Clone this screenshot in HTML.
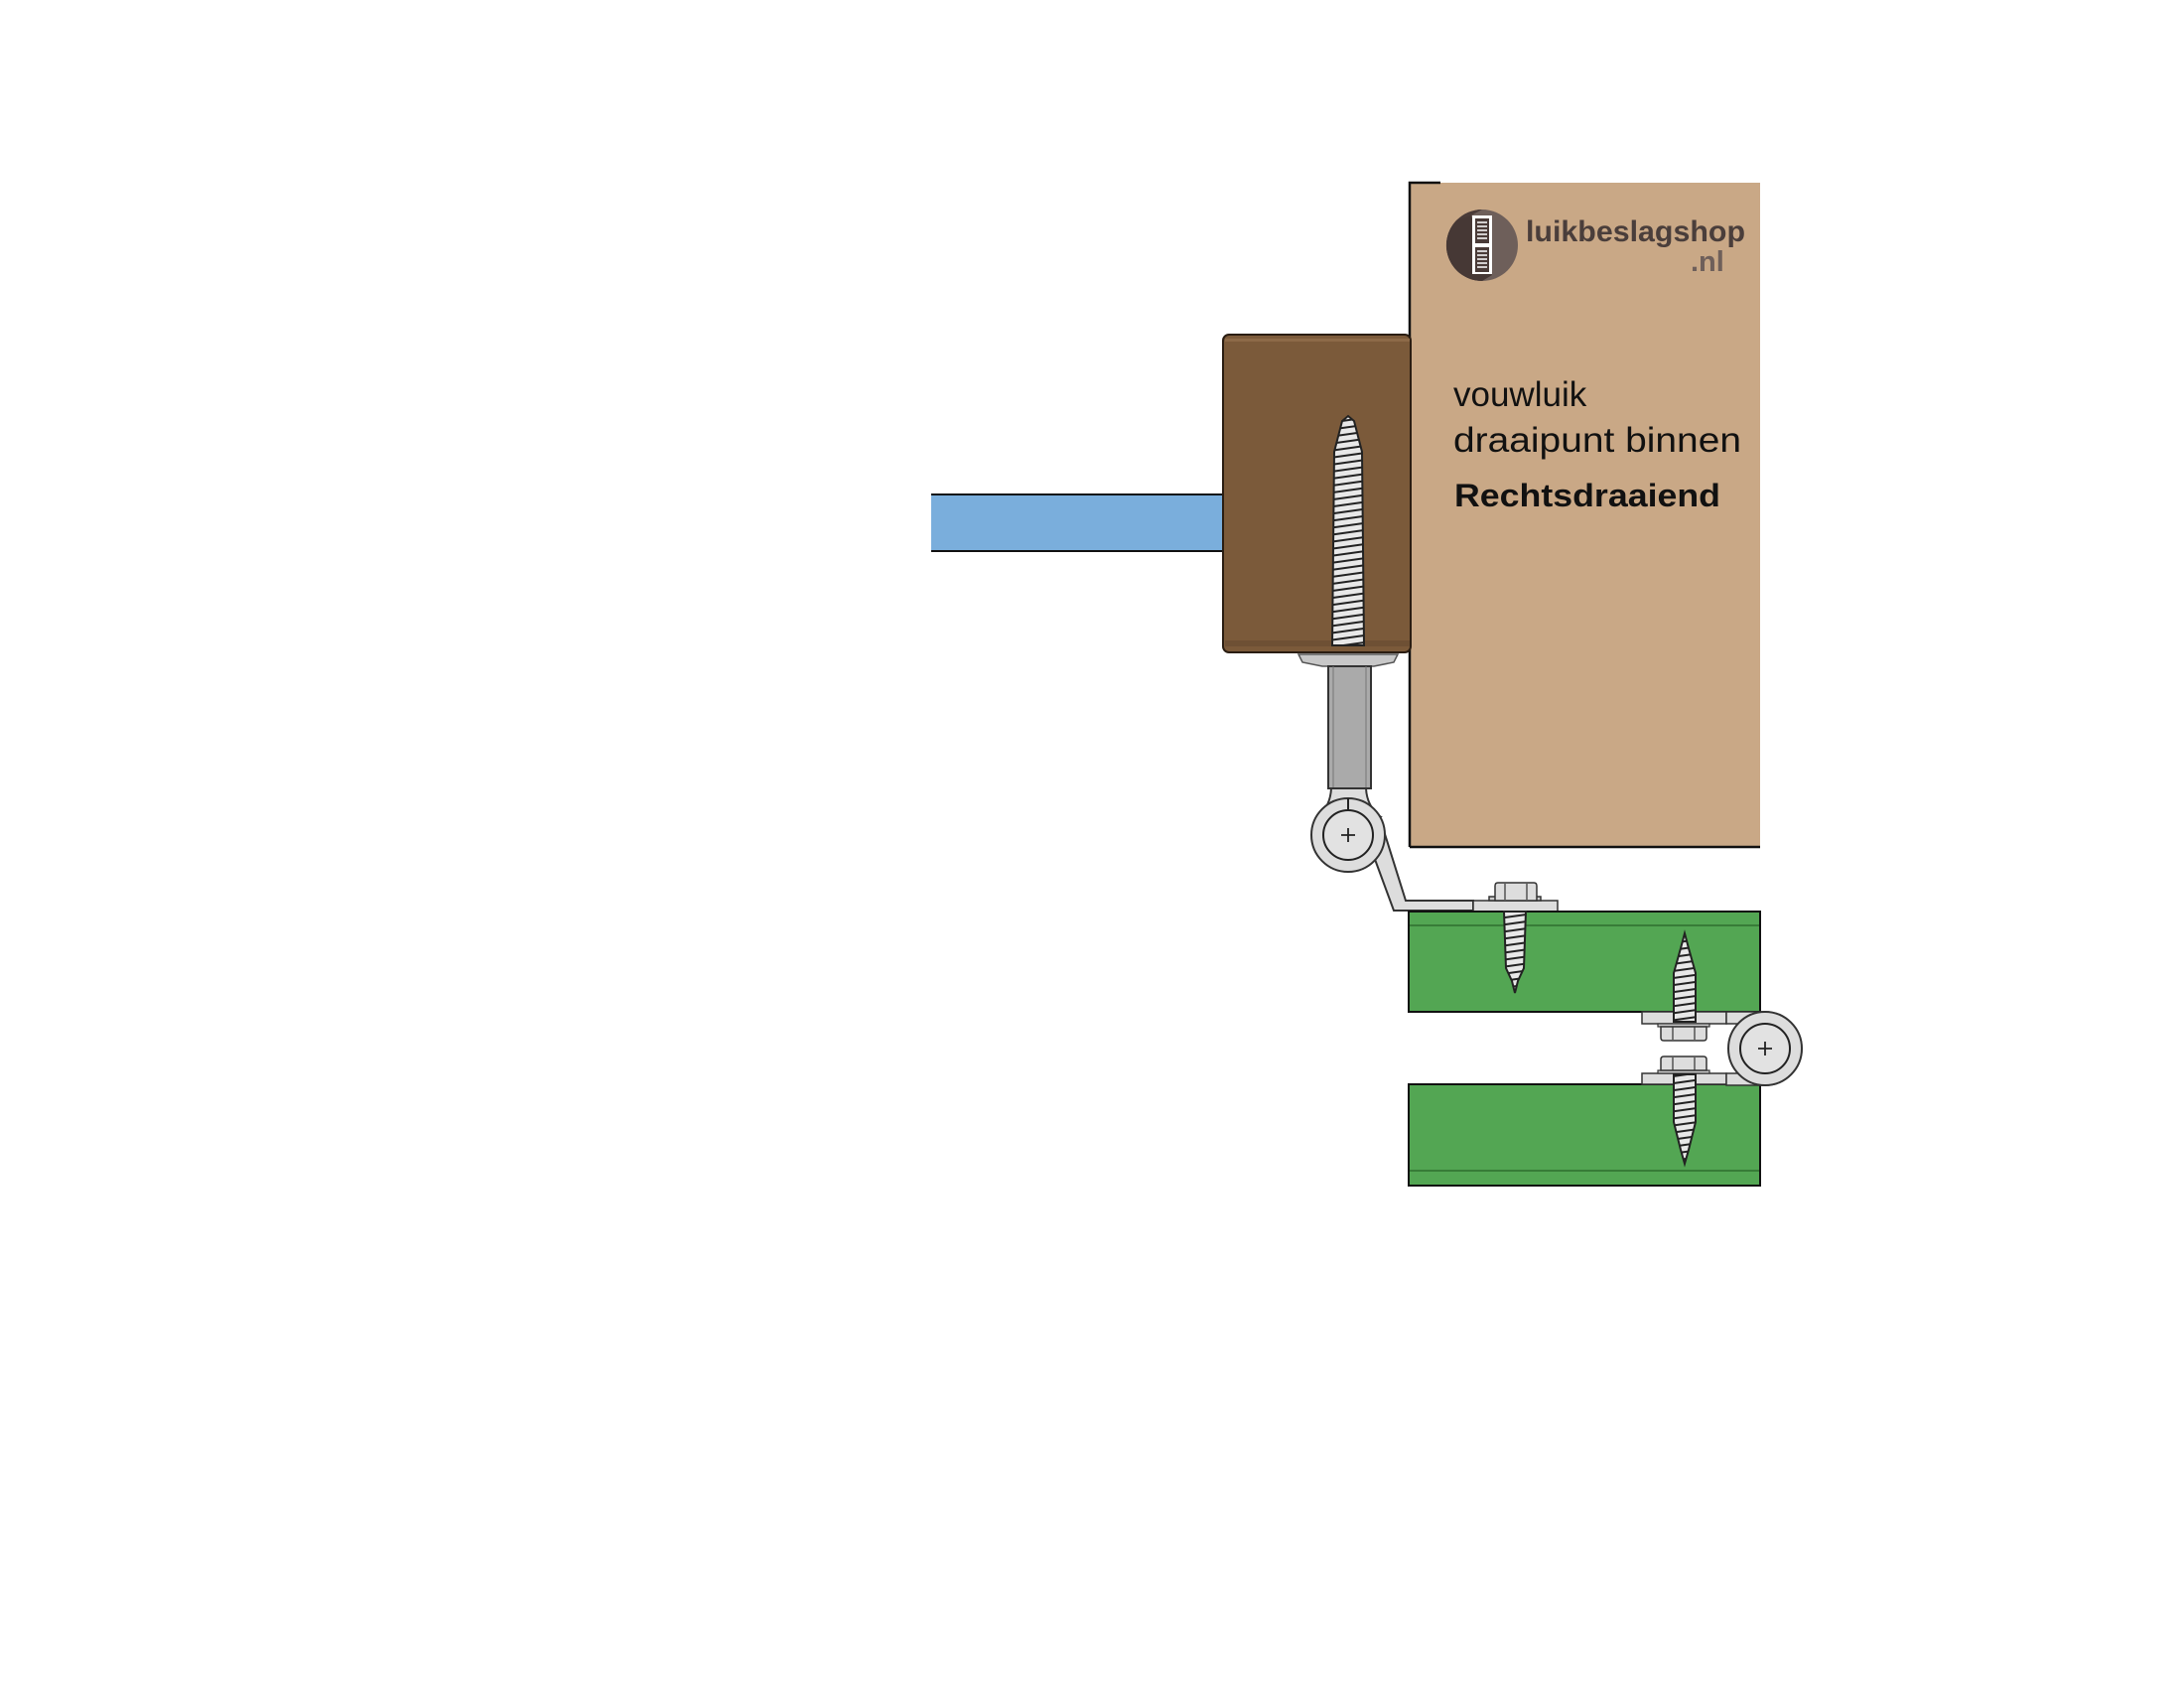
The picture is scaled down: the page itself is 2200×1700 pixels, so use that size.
<!DOCTYPE html>
<html><head><meta charset="utf-8"><style>html,body{margin:0;padding:0;background:#fff}svg{display:block}</style></head>
<body>
<svg width="2200" height="1700" viewBox="0 0 2200 1700" xmlns="http://www.w3.org/2000/svg">
<defs>
<pattern id="thr" width="12" height="7" patternUnits="userSpaceOnUse" patternTransform="rotate(-8)">
<rect width="12" height="7" fill="#e8e8e8"/><rect y="5" width="12" height="2" fill="#222"/>
</pattern>
</defs>
<rect x="1420" y="184" width="353" height="669" fill="#c9a886"/>
<path d="M1420 853 V184 H1451 M1420 853 H1773" fill="none" stroke="#111" stroke-width="2.5"/>
<circle cx="1493" cy="247" r="36" fill="#6e5f5a"/>
<path d="M1493 211 A36 36 0 0 0 1493 283 L1482 277 L1482 217 Z" fill="#4a3b38"/>
<path d="M1467 222 A36 36 0 0 0 1493 283 L1503 277 L1482 217 Z" fill="#463835"/>
<rect x="1483" y="217" width="20" height="59" fill="#fff"/>
<rect x="1486" y="220" width="14" height="25" fill="#4a3b38"/>
<rect x="1486" y="249" width="14" height="25" fill="#4a3b38"/>
<g stroke="#fff" stroke-width="1.5"><path d="M1488 224H1498M1488 228H1498M1488 232H1498M1488 236H1498M1488 240H1498M1488 253H1498M1488 257H1498M1488 261H1498M1488 265H1498M1488 269H1498"/></g>
<text x="1537" y="243" font-family="Liberation Sans, sans-serif" font-weight="bold" font-size="30" fill="#4a3e3b" textLength="221" lengthAdjust="spacingAndGlyphs">luikbeslagshop</text>
<text x="1703" y="273" font-family="Liberation Sans, sans-serif" font-weight="bold" font-size="29" fill="#6e5f5a">.nl</text>
<text x="1464" y="409" font-family="Liberation Sans, sans-serif" font-size="35" fill="#111">vouwluik</text>
<text x="1464" y="455" font-family="Liberation Sans, sans-serif" font-size="35" fill="#111" textLength="290" lengthAdjust="spacingAndGlyphs">draaipunt binnen</text>
<text x="1465" y="510" font-family="Liberation Sans, sans-serif" font-weight="bold" font-size="32" fill="#111" textLength="268" lengthAdjust="spacingAndGlyphs">Rechtsdraaiend</text>
<rect x="938" y="498" width="296" height="57" fill="#7aaedc"/>
<path d="M938 498H1234M938 555H1234" stroke="#111" stroke-width="2"/>
<rect x="1232" y="337" width="189" height="320" rx="6" fill="#7b5a3a" stroke="#2a1d12" stroke-width="2"/>
<rect x="1234" y="341" width="186" height="3" fill="#8d6a48"/>
<rect x="1234" y="645" width="186" height="6" fill="#6e5034"/>
<path d="M1358 419 L1364 424 L1372 455 L1374 650 L1342 650 L1344 455 L1352 424 Z" fill="url(#thr)" stroke="#222" stroke-width="2"/>
<path d="M1308 659 H1408 L1404 667 L1384 671 H1332 L1312 667 Z" fill="#c8c8c8" stroke="#555" stroke-width="1.5"/>
<rect x="1338" y="671" width="43" height="123" fill="#aaa" stroke="#333" stroke-width="2"/>
<path d="M1343 671V794M1376 671V794" stroke="#777" stroke-width="1"/>
<path d="M1341 794 Q1340 812 1328 822 L1390 822 Q1377 812 1376 794 Z" fill="#ddd" stroke="#333" stroke-width="2"/>
<path d="M1383 860 L1404 917 H1484 V907 H1416 L1395 840 Z" fill="#ddd" stroke="#333" stroke-width="2"/>
<circle cx="1358" cy="841" r="37" fill="#ddd" stroke="#333" stroke-width="2"/>
<circle cx="1358" cy="841" r="25" fill="#e2e2e2" stroke="#222" stroke-width="2"/>
<path d="M1358 816V804" stroke="#222" stroke-width="2"/>
<path d="M1351 841H1365M1358 834V848" stroke="#222" stroke-width="1.8"/>
<rect x="1484" y="907" width="85" height="11" fill="#ddd" stroke="#333" stroke-width="1.5"/>
<rect x="1419" y="918" width="354" height="101" fill="#53a653" stroke="#111" stroke-width="2"/>
<path d="M1420 932H1772" stroke="#2e6e2e" stroke-width="1.5"/>
<rect x="1419" y="1092" width="354" height="102" fill="#53a653" stroke="#111" stroke-width="2"/>
<path d="M1420 1179H1772" stroke="#2e6e2e" stroke-width="1.5"/>
<rect x="1500" y="903" width="52" height="4" fill="#ccc" stroke="#333" stroke-width="1.5"/>
<path d="M1506 907 V892 Q1506 889 1509 889 H1545 Q1548 889 1548 892 V907 Z" fill="#ddd" stroke="#333" stroke-width="1.5"/>
<path d="M1516 890V906M1538 890V906" stroke="#333" stroke-width="1.2"/>
<path d="M1515 918 L1537 918 L1535 975 L1529 988 L1526 1000 L1523 988 L1517 975 Z" fill="url(#thr)" stroke="#222" stroke-width="2"/>
<rect x="1654" y="1019" width="85" height="12" fill="#ddd" stroke="#333" stroke-width="1.5"/>
<rect x="1654" y="1081" width="85" height="11" fill="#ddd" stroke="#333" stroke-width="1.5"/>
<path d="M1739 1019 H1778 A37 37 0 1 1 1778 1093 H1739 V1081 H1757 L1757 1031 H1739 Z" fill="#ddd" stroke="#333" stroke-width="1.5"/>
<circle cx="1778" cy="1056" r="37" fill="#ddd" stroke="#333" stroke-width="2"/>
<circle cx="1778" cy="1056" r="25" fill="#e2e2e2" stroke="#222" stroke-width="2"/>
<path d="M1771 1056H1785M1778 1049V1063" stroke="#222" stroke-width="1.8"/>
<rect x="1670" y="1031" width="52" height="3" fill="#ccc" stroke="#333" stroke-width="1.2"/>
<path d="M1673 1034 V1045 Q1673 1048 1676 1048 H1716 Q1719 1048 1719 1045 V1034 Z" fill="#ddd" stroke="#333" stroke-width="1.5"/>
<path d="M1685 1034V1047M1707 1034V1047" stroke="#333" stroke-width="1.2"/>
<rect x="1670" y="1078" width="52" height="3" fill="#ccc" stroke="#333" stroke-width="1.2"/>
<path d="M1673 1078 V1067 Q1673 1064 1676 1064 H1716 Q1719 1064 1719 1067 V1078 Z" fill="#ddd" stroke="#333" stroke-width="1.5"/>
<path d="M1685 1065V1078M1707 1065V1078" stroke="#333" stroke-width="1.2"/>
<path d="M1697 940 L1701 955 L1708 980 L1708 1029 L1686 1029 L1686 980 L1693 955 Z" fill="url(#thr)" stroke="#222" stroke-width="2"/>
<path d="M1686 1082 L1708 1082 L1708 1130 L1701 1158 L1697 1172 L1693 1158 L1686 1130 Z" fill="url(#thr)" stroke="#222" stroke-width="2"/>
</svg>
</body></html>
